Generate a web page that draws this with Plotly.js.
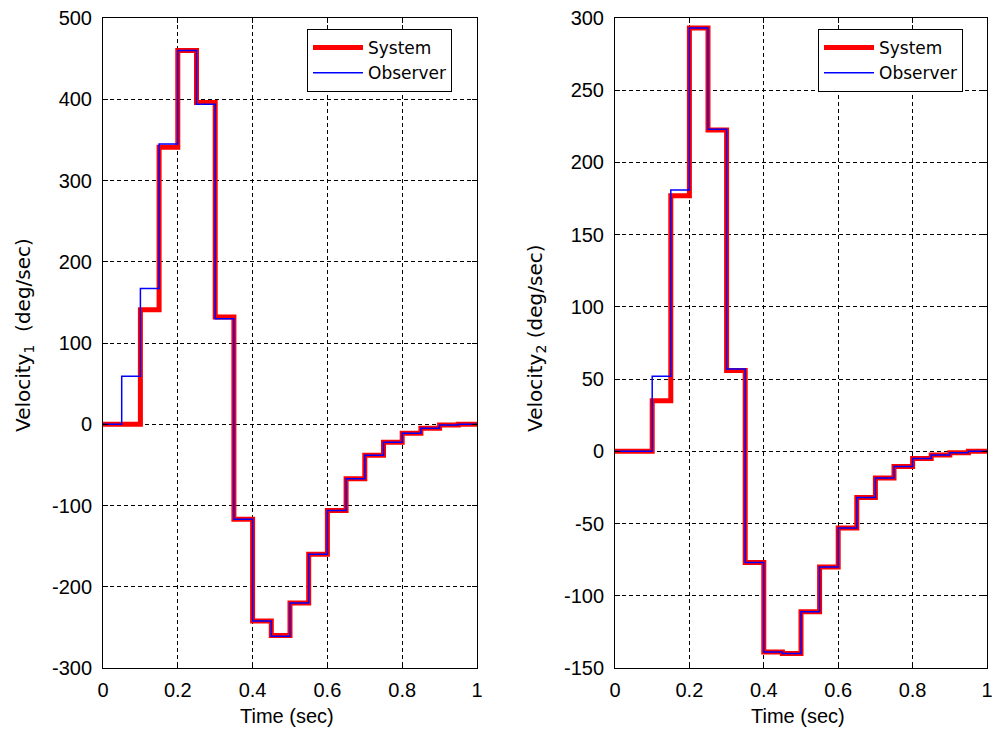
<!DOCTYPE html>
<html>
<head>
<meta charset="utf-8">
<script src="https://cdn.plot.ly/plotly-3.0.1.min.js"></script>
<style>html,body{margin:0;padding:0;background:#fff;}#chart{width:995px;height:731px;}</style>
</head>
<body>
<div id="chart"></div>
<script>
// Sample times (sec), zero-order-hold steps
const time = [0, 0.05, 0.1, 0.15, 0.2, 0.25, 0.3, 0.35, 0.4, 0.45, 0.5, 0.55, 0.6, 0.65, 0.7, 0.75, 0.8, 0.85, 0.9, 0.95, 1.0];

// Velocity 1 (deg/sec)
const system1   = [0, 0, 141, 341, 460, 396, 132, -117, -242, -260, -220, -160, -106, -67, -38, -22, -11, -5, -1, 0, 0];
const observer1 = [0, 59, 167, 345, 460, 394, 130, -117, -242, -261, -220, -160, -106, -67, -38, -22, -11, -5, -1, 0, 0];

// Velocity 2 (deg/sec)
const system2   = [0, 0, 35, 177, 293, 222.5, 56, -77, -139, -140, -111, -80, -53, -32, -18.5, -10.5, -5, -2.5, -1, 0, 0];
const observer2 = [0, 0, 52, 181, 293, 223, 57, -77, -139, -140, -111, -80, -53, -32, -18.5, -10.5, -5, -2.5, -1, 0, 0];

const xTicks = [0, 0.2, 0.4, 0.6, 0.8, 1];
const xTickText = ['0', '0.2', '0.4', '0.6', '0.8', '1'];
const y1Ticks = [-300, -200, -100, 0, 100, 200, 300, 400, 500];
const y1TickText = ['-300', '-200', '-100', '0', '100', '200', '300', '400', '500'];
const y2Ticks = [-150, -100, -50, 0, 50, 100, 150, 200, 250, 300];
const y2TickText = ['-150', '-100', '-50', '0', '50', '100', '150', '200', '250', '300'];

const seriesNames = ['System', 'Observer'];
const FONT = 'Liberation Sans, Arial, sans-serif';
const FONT_W = 'DejaVu Sans, sans-serif';
const FS = 20;

const traces = [
  {x: time, y: system1, name: seriesNames[0], mode: 'lines', line: {shape: 'hv', color: '#ff0000', width: 5}, xaxis: 'x', yaxis: 'y', legend: 'legend'},
  {x: time, y: observer1, name: seriesNames[1], mode: 'lines', line: {shape: 'hv', color: '#0000ff', width: 1.5}, xaxis: 'x', yaxis: 'y', legend: 'legend'},
  {x: time, y: system2, name: seriesNames[0], mode: 'lines', line: {shape: 'hv', color: '#ff0000', width: 5}, xaxis: 'x2', yaxis: 'y2', legend: 'legend2'},
  {x: time, y: observer2, name: seriesNames[1], mode: 'lines', line: {shape: 'hv', color: '#0000ff', width: 1.5}, xaxis: 'x2', yaxis: 'y2', legend: 'legend2'}
];

const W = 995, H = 731;
const yDom = [(H - 668) / H, (H - 18) / H];

function xax(dom, anchor) {
  return {
    domain: dom, anchor: anchor, range: [0, 1], tickvals: xTicks, ticktext: xTickText,
    showline: true, linecolor: '#000', linewidth: 1, mirror: 'ticks',
    ticks: 'inside', ticklen: 5, tickcolor: '#000', tickwidth: 1,
    showgrid: true, gridcolor: '#000', gridwidth: 1, griddash: '4px,3px',
    zeroline: false, tickfont: {family: FONT, size: FS, color: '#000'},
    ticklabelstandoff: 4, fixedrange: true
  };
}
function yax(range, ticks, text, anchor) {
  return {
    domain: yDom, anchor: anchor, range: range, tickvals: ticks, ticktext: text,
    showline: true, linecolor: '#000', linewidth: 1, mirror: 'ticks',
    ticks: 'inside', ticklen: 5, tickcolor: '#000', tickwidth: 1,
    showgrid: true, gridcolor: '#000', gridwidth: 1, griddash: '4px,3px',
    zeroline: false, tickfont: {family: FONT, size: FS, color: '#000'},
    ticklabelstandoff: 6, fixedrange: true
  };
}

const legendBase = {
  bgcolor: '#fff', bordercolor: '#000', borderwidth: 1,
  font: {family: FONT_W, size: 17, color: '#000'},
  xanchor: 'left', yanchor: 'top', traceorder: 'normal', tracegroupgap: 0,
  itemwidth: 50, entrywidth: 132, entrywidthmode: 'pixels'
};

const layout = {
  width: W, height: H,
  margin: {l: 0, r: 0, t: 0, b: 0},
  paper_bgcolor: '#fff', plot_bgcolor: '#fff',
  showlegend: true,
  xaxis: xax([103 / W, 477 / W], 'y'),
  yaxis: yax([-300, 500], y1Ticks, y1TickText, 'x'),
  xaxis2: xax([615 / W, 987 / W], 'y2'),
  yaxis2: yax([-150, 300], y2Ticks, y2TickText, 'x2'),
  legend: Object.assign({}, legendBase, {x: 307 / W, y: 1 - 29 / H}),
  legend2: Object.assign({}, legendBase, {x: 818 / W, y: 1 - 29 / H}),
  annotations: [
    {text: 'Time (sec)', x: 287 / W, y: 1 - 716 / H, xref: 'paper', yref: 'paper', showarrow: false, xanchor: 'center', yanchor: 'middle', font: {family: FONT, size: FS, color: '#000'}},
    {text: 'Time (sec)', x: 798 / W, y: 1 - 716 / H, xref: 'paper', yref: 'paper', showarrow: false, xanchor: 'center', yanchor: 'middle', font: {family: FONT, size: FS, color: '#000'}},
    {text: 'Velocity<sub>1</sub>  (deg/sec)', x: 24 / W, y: 1 - 434 / H, xref: 'paper', yref: 'paper', showarrow: false, textangle: -90, xanchor: 'center', yanchor: 'bottom', font: {family: FONT_W, size: 20, color: '#000'}},
    {text: 'Velocity<sub>2</sub> (deg/sec)', x: 536 / W, y: 1 - 434 / H, xref: 'paper', yref: 'paper', showarrow: false, textangle: -90, xanchor: 'center', yanchor: 'bottom', font: {family: FONT_W, size: 20, color: '#000'}}
  ]
};

Plotly.newPlot('chart', traces, layout, {displayModeBar: false, staticPlot: true});
</script>
</body>
</html>
